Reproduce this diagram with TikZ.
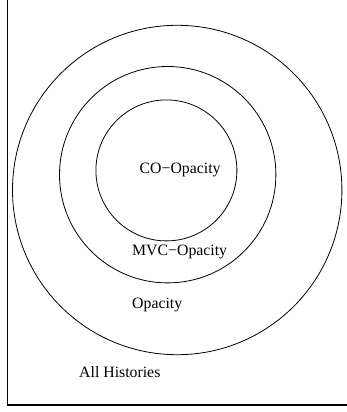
\documentclass[tikz,border=0pt]{standalone}
\usepackage{fontspec}
\setmainfont{Liberation Serif}

\begin{document}
\begin{tikzpicture}[
        x=1pt, y=-1pt,
        ring/.style={circle, draw=black, line width=0.8pt, inner sep=0pt},
        label_node/.style={anchor=base west, inner sep=0pt, font=\fontsize{15.8}{19}\selectfont},
        frame/.style={draw=black, line width=1.1pt}
    ]

        \useasboundingbox (0,0) rectangle (346,412);

        % frame, cut off at the top and on the right
        \coordinate (top_left) at (7.3,-2);
        \coordinate (bottom_right) at (348,405);
        \draw[frame] (top_left) |- (bottom_right);

        \node[ring, minimum size=329.4pt] (outer) at (177.2,190) {};
        \node[ring, minimum size=216.4pt] (middle) at (167.7,174.7) {};
        \node[ring, minimum size=141pt] (inner) at (166.4,170.4) {};

        \node[label_node] (co) at (139.5,173.5) {CO−Opacity};
        \node[label_node] (mvc) at (132,255.5) {MVC−Opacity};
        \node[label_node] (op) at (132,308.5) {Opacity};
        \node[label_node] (all) at (79,377.5) {All Histories};
    \end{tikzpicture}
\end{document}
